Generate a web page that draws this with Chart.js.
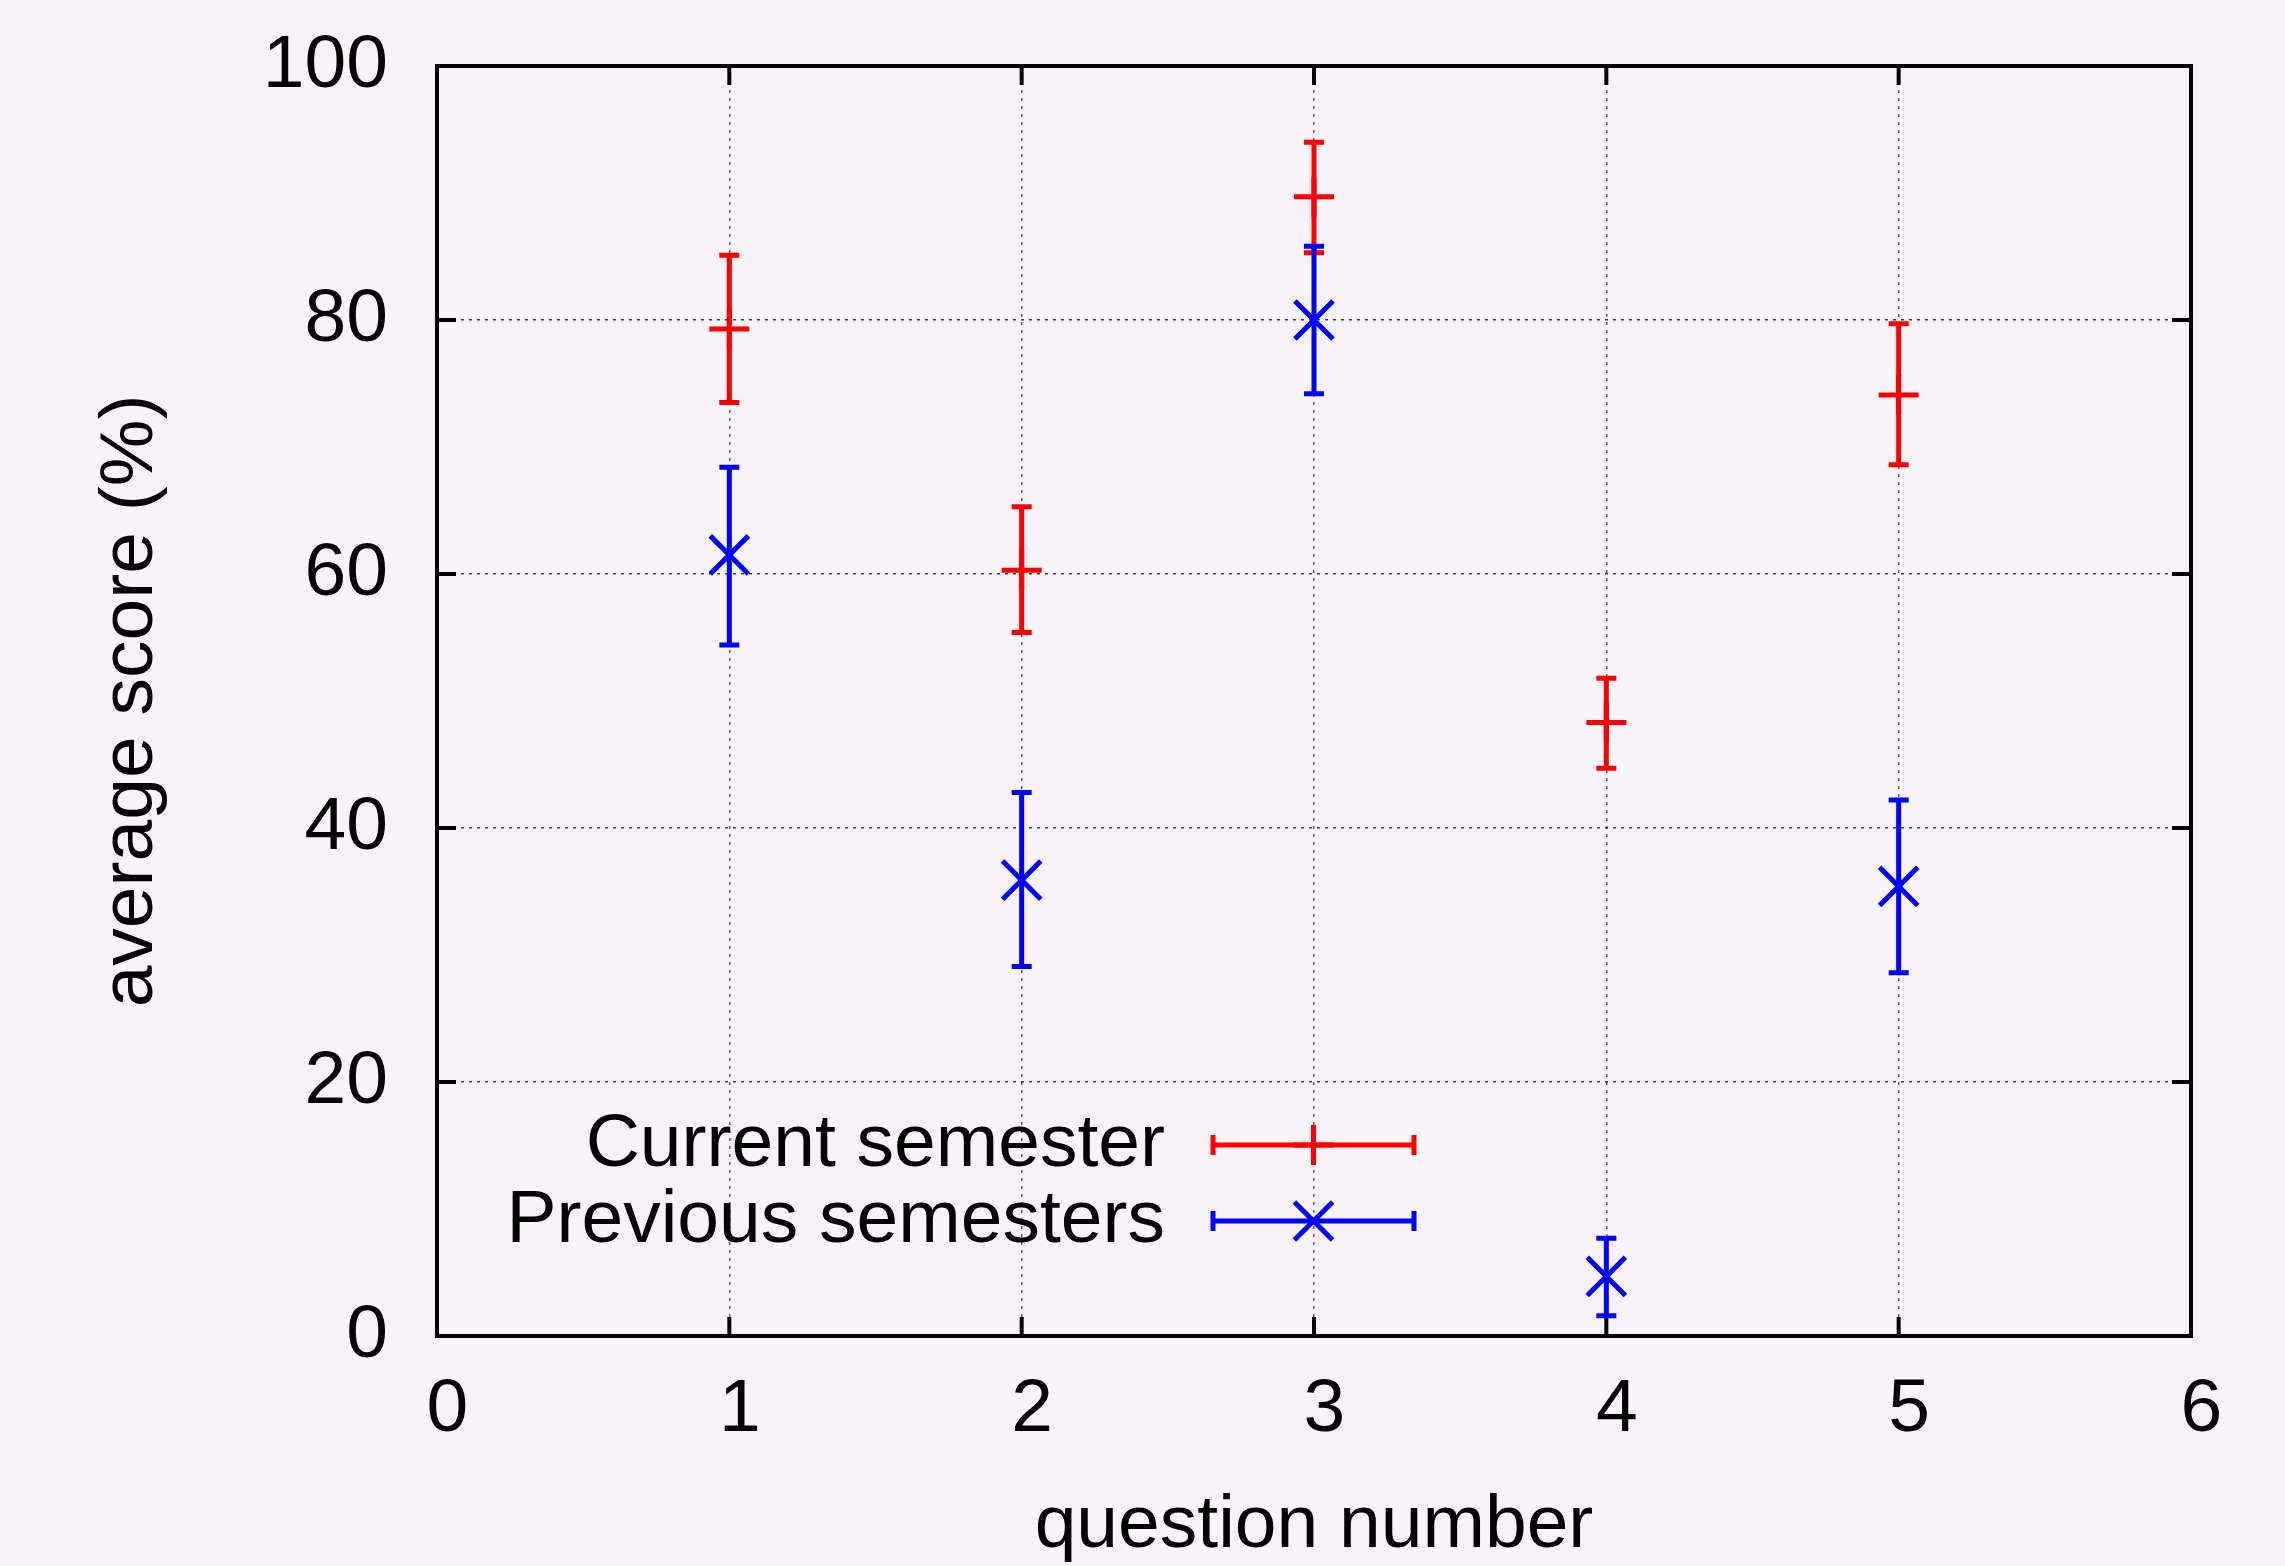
<!DOCTYPE html>
<html>
<head>
<meta charset="utf-8">
<script src="https://cdn.jsdelivr.net/npm/chart.js@4/dist/chart.umd.min.js"></script>
<style>
  html, body { margin: 0; padding: 0; background: #f8f2f9; }
  #wrap { position: relative; width: 2285px; height: 1566px; }
</style>
</head>
<body>
<div id="wrap"><canvas id="c"></canvas></div>
<script>
// ---- data ----
const questions = [1, 2, 3, 4, 5];
const currentMean = [79.3, 60.3, 89.7, 48.3, 74.1];
const currentLow  = [73.5, 55.4, 85.3, 44.7, 68.6];
const currentHigh = [85.1, 65.3, 94.0, 51.8, 79.7];
const previousMean = [61.5, 35.9, 80.0, 4.7, 35.4];
const previousLow  = [54.4, 29.1, 74.2, 1.6, 28.6];
const previousHigh = [68.4, 42.8, 85.8, 7.7, 42.2];
const seriesNames = ['Current semester', 'Previous semesters'];
const xTickValues = [0, 1, 2, 3, 4, 5, 6];
const yTickValues = [0, 20, 40, 60, 80, 100];
const xTitle = 'question number';
const yTitle = 'average score (%)';

const FONT = '"Liberation Sans", Arial, Helvetica, sans-serif';
const BG = '#f8f2f9';
const RED = '#ff0000';
const BLUE = '#0000ff';

function pts(xs, ys, lo, hi) {
  return xs.map((x, i) => ({ x: x, y: ys[i], lo: lo[i], hi: hi[i] }));
}

const bgPlugin = {
  id: 'bg',
  beforeDraw(chart) {
    const ctx = chart.ctx;
    ctx.save();
    ctx.fillStyle = BG;
    ctx.fillRect(0, 0, chart.width, chart.height);
    ctx.restore();
  }
};

const framePlugin = {
  id: 'frame',
  beforeDatasetsDraw(chart) {
    const ctx = chart.ctx;
    const a = chart.chartArea;
    const xs = chart.scales.x, ys = chart.scales.y;
    const tl = 19;
    ctx.save();
    ctx.strokeStyle = '#000';
    ctx.lineWidth = 4;
    ctx.beginPath();
    xTickValues.forEach(v => {
      const px = xs.getPixelForValue(v);
      ctx.moveTo(px, a.bottom); ctx.lineTo(px, a.bottom - tl);
      ctx.moveTo(px, a.top); ctx.lineTo(px, a.top + tl);
    });
    yTickValues.forEach(v => {
      const py = ys.getPixelForValue(v);
      ctx.moveTo(a.left, py); ctx.lineTo(a.left + tl, py);
      ctx.moveTo(a.right, py); ctx.lineTo(a.right - tl, py);
    });
    ctx.stroke();
    ctx.strokeRect(a.left, a.top, a.right - a.left, a.bottom - a.top);
    ctx.restore();
  }
};

function drawErr(ctx, x, yTop, yBot, color) {
  const cap = 10;
  ctx.save();
  ctx.strokeStyle = color;
  ctx.lineWidth = 5;
  ctx.beginPath();
  ctx.moveTo(x, yTop); ctx.lineTo(x, yBot);
  ctx.moveTo(x - cap, yTop); ctx.lineTo(x + cap, yTop);
  ctx.moveTo(x - cap, yBot); ctx.lineTo(x + cap, yBot);
  ctx.stroke();
  ctx.restore();
}

const errorBarPlugin = {
  id: 'errbars',
  beforeDatasetDraw(chart, args) {
    const ds = chart.data.datasets[args.index];
    const xs = chart.scales.x, ys = chart.scales.y;
    ds.data.forEach(p => {
      drawErr(chart.ctx, xs.getPixelForValue(p.x), ys.getPixelForValue(p.hi), ys.getPixelForValue(p.lo), ds.borderColor);
    });
  }
};

const legendPlugin = {
  id: 'customLegend',
  afterDatasetsDraw(chart) {
    const ctx = chart.ctx;
    const textRight = 1165;
    const lineL = 1213, lineR = 1414;
    const rows = [1145, 1221];
    chart.data.datasets.forEach((ds, i) => {
      const y = rows[i];
      ctx.save();
      ctx.font = '75px ' + FONT;
      ctx.fillStyle = '#000';
      ctx.textAlign = 'right';
      ctx.textBaseline = 'middle';
      ctx.fillText(ds.label, textRight, y);
      ctx.strokeStyle = ds.borderColor;
      ctx.lineWidth = 5;
      ctx.beginPath();
      ctx.moveTo(lineL, y); ctx.lineTo(lineR, y);
      ctx.moveTo(lineL, y - 10); ctx.lineTo(lineL, y + 10);
      ctx.moveTo(lineR, y - 10); ctx.lineTo(lineR, y + 10);
      ctx.stroke();
      const mx = (lineL + lineR) / 2;
      Chart.helpers.drawPoint(ctx, {
        pointStyle: ds.pointStyle, radius: ds.pointRadius, borderWidth: ds.pointBorderWidth, rotation: 0
      }, mx, y);
      ctx.restore();
    });
  }
};

new Chart(document.getElementById('c'), {
  type: 'scatter',
  data: {
    datasets: [
      {
        label: seriesNames[0],
        data: pts(questions, currentMean, currentLow, currentHigh),
        borderColor: RED, backgroundColor: RED,
        pointStyle: 'cross', pointRadius: 20, pointBorderWidth: 5,
        order: 2
      },
      {
        label: seriesNames[1],
        data: pts(questions, previousMean, previousLow, previousHigh),
        borderColor: BLUE, backgroundColor: BLUE,
        pointStyle: 'crossRot', pointRadius: 27, pointBorderWidth: 5,
        order: 1
      }
    ]
  },
  options: {
    responsive: true,
    maintainAspectRatio: false,
    animation: false,
    events: [],
    layout: { padding: { left: 0, top: 66, right: 94, bottom: 0 } },
    plugins: {
      legend: { display: false },
      tooltip: { enabled: false }
    },
    scales: {
      x: {
        type: 'linear', min: 0, max: 6,
        afterFit(scale) { scale.height = 230; },
        afterBuildTicks(scale) { scale.ticks = xTickValues.map(v => ({ value: v })); },
        ticks: {
          padding: 29, color: '#000',
          font: { family: FONT, size: 75, lineHeight: 1.2 },
          callback: v => ' ' + v
        },
        grid: { color: 'rgba(0,0,0,0.6)', lineWidth: 1.5, drawTicks: false },
        border: { display: false, dash: [3, 5] },
        title: {
          display: true, text: xTitle, color: '#000',
          font: { family: FONT, size: 75, lineHeight: 1 },
          padding: { top: 0, bottom: 2 }
        }
      },
      y: {
        type: 'linear', min: 0, max: 100,
        afterFit(scale) { scale.width = 437; },
        afterBuildTicks(scale) { scale.ticks = yTickValues.map(v => ({ value: v })); },
        ticks: {
          padding: 49, color: '#000',
          font: { family: FONT, size: 75, lineHeight: 0.2 }
        },
        grid: { color: 'rgba(0,0,0,0.75)', lineWidth: 1.5, drawTicks: false },
        border: { display: false, dash: [3, 5] },
        title: {
          display: true, text: yTitle, color: '#000',
          font: { family: FONT, size: 75, lineHeight: 1 },
          padding: { top: 94, bottom: 0 }
        }
      }
    }
  },
  plugins: [bgPlugin, framePlugin, errorBarPlugin, legendPlugin]
});
</script>
</body>
</html>
